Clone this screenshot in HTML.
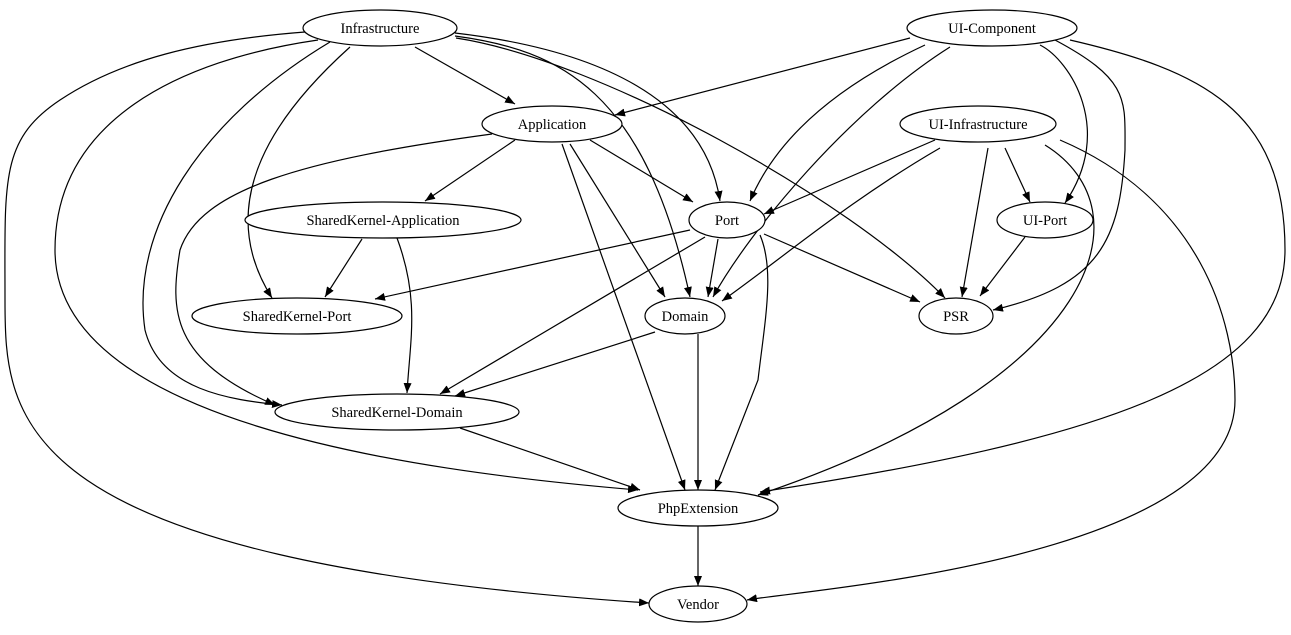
<!DOCTYPE html>
<html><head><meta charset="utf-8"><style>
html,body{margin:0;padding:0;background:#fff;}
svg{display:block;}
text{font-family:"Liberation Serif",serif;font-size:14.5px;fill:#000;}
</style></head><body>
<svg width="1291" height="635" viewBox="0 0 1291 635" xmlns="http://www.w3.org/2000/svg">
<defs><marker id="a" markerWidth="10" markerHeight="8" refX="10" refY="4" orient="auto" markerUnits="userSpaceOnUse"><path d="M0,0 L10,4 L0,8 Z" fill="#000"/></marker></defs>
<g fill="none" stroke="#000" stroke-width="1.2" marker-end="url(#a)">
<path d="M415,47 L515,104"/>
<path d="M455,33 C600,50 705,100 720,201"/>
<path d="M455,36 C560,50 645,90 690,297"/>
<path d="M456,38 C600,60 850,200 945,298"/>
<path d="M350,47 C280,110 210,200 272,298"/>
<path d="M330,42 C200,120 130,230 145,330 C160,390 230,400 282,405"/>
<path d="M318,40 C180,60 55,120 55,250 C55,420 400,470 638,490"/>
<path d="M305,32 C200,40 120,60 60,100 C0,140 5,180 5,300 C5,420 10,560 649,603"/>
<path d="M910,38 L615,115"/>
<path d="M925,45 C850,80 780,130 750,201"/>
<path d="M950,47 C850,110 750,230 713,297"/>
<path d="M1040,45 C1070,60 1115,130 1065,203"/>
<path d="M1055,40 C1130,80 1125,100 1125,150 C1120,240 1100,285 993,310"/>
<path d="M1070,40 C1200,70 1285,110 1285,250 C1285,380 1100,440 760,492"/>
<path d="M935,140 L764,214"/>
<path d="M940,148 C850,200 780,260 722,301"/>
<path d="M1005,148 L1030,202"/>
<path d="M988,148 L962,297"/>
<path d="M1045,145 C1150,210 1100,380 758,495"/>
<path d="M1060,140 C1200,200 1235,320 1235,400 C1235,560 800,590 747,600"/>
<path d="M515,140 L425,201"/>
<path d="M590,140 L693,202"/>
<path d="M570,144 L665,297"/>
<path d="M562,144 L685,490"/>
<path d="M492,134 C300,160 200,190 180,250 C170,310 170,360 275,405"/>
<path d="M362,239 L325,297"/>
<path d="M397,238 C420,300 410,340 407,393"/>
<path d="M690,230 L375,299"/>
<path d="M718,239 L708,297"/>
<path d="M760,235 C775,270 765,320 758,380 L715,490"/>
<path d="M705,237 L440,394"/>
<path d="M764,234 L920,302"/>
<path d="M655,332 L455,396"/>
<path d="M698,334 L698,490"/>
<path d="M460,428 L640,490"/>
<path d="M1025,237 L980,296"/>
<path d="M698,526 L698,586"/>
</g>
<g fill="#fff" stroke="#000" stroke-width="1.2">
<ellipse cx="380" cy="28" rx="77" ry="18"/>
<ellipse cx="992" cy="28" rx="85" ry="18"/>
<ellipse cx="552" cy="124" rx="70" ry="18"/>
<ellipse cx="978" cy="124" rx="78" ry="18"/>
<ellipse cx="383" cy="220" rx="138" ry="18"/>
<ellipse cx="727" cy="220" rx="38" ry="18"/>
<ellipse cx="1045" cy="220" rx="48" ry="18"/>
<ellipse cx="297" cy="316" rx="105" ry="18"/>
<ellipse cx="685" cy="316" rx="40" ry="18"/>
<ellipse cx="956" cy="316" rx="37" ry="18"/>
<ellipse cx="397" cy="412" rx="122" ry="18"/>
<ellipse cx="698" cy="508" rx="80" ry="18"/>
<ellipse cx="698" cy="604" rx="49" ry="18"/>
</g>
<g text-anchor="middle">
<text x="380" y="33">Infrastructure</text>
<text x="992" y="33">UI-Component</text>
<text x="552" y="129">Application</text>
<text x="978" y="129">UI-Infrastructure</text>
<text x="383" y="225">SharedKernel-Application</text>
<text x="727" y="225">Port</text>
<text x="1045" y="225">UI-Port</text>
<text x="297" y="321">SharedKernel-Port</text>
<text x="685" y="321">Domain</text>
<text x="956" y="321">PSR</text>
<text x="397" y="417">SharedKernel-Domain</text>
<text x="698" y="513">PhpExtension</text>
<text x="698" y="609">Vendor</text>
</g>
</svg>
</body></html>
